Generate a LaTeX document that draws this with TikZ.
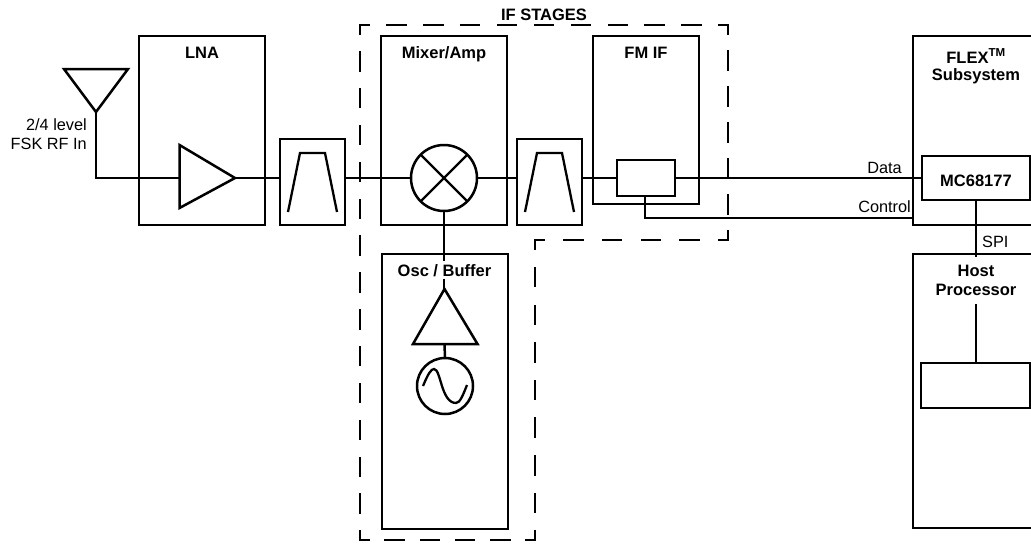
\documentclass[tikz,border=0pt]{standalone}
\usepackage{fontspec}
\setmainfont{Liberation Sans}
\usetikzlibrary{calc}
\newcommand{\dashside}[4]{% from, to, length, periods
  \pgfmathsetmacro{\myG}{(#3-17+18)/(#4+1)-18}
  \draw[dashline,dash pattern=on 18pt off \myG pt,dash phase=9.5pt] (#1) -- (#2);
}
\tikzset{
  ln/.style={draw=black,line width=2.5pt},
  thin ln/.style={draw=black,line width=2.3pt},
  dashline/.style={draw=black,line width=2.5pt,line cap=rect},
  boxn/.style={ln,rectangle,inner sep=0pt,outer sep=0pt,anchor=north west},
  lab/.style={inner sep=0pt,anchor=base,font=\fontsize{16.5}{19}\selectfont\bfseries},
  small/.style={inner sep=0pt,anchor=base,font=\fontsize{16.3}{19}\selectfont},
  round/.style={ln,circle,inner sep=0pt,outer sep=0pt,fill=white},
}
\begin{document}
\begin{tikzpicture}[x=1pt,y=-1pt,line join=miter]
\useasboundingbox (0,0) rectangle (1031,544);
\clip (0,0) rectangle (1031,544);
\fill[white] (0,0) rectangle (1031,544);
% boxes
\node[boxn,minimum width=126pt,minimum height=189pt] (lna) at (139,36) {};
\node[boxn,minimum width=65pt,minimum height=86pt] (f1) at (280,139) {};
\node[boxn,minimum width=126pt,minimum height=189pt] (mix) at (381,36) {};
\node[boxn,minimum width=65pt,minimum height=86pt] (f2) at (517,139) {};
\node[boxn,minimum width=106pt,minimum height=168pt] (fmif) at (593,36) {};
\node[boxn,minimum width=58pt,minimum height=36pt] (lim) at (617,160) {};
\node[boxn,minimum width=126pt,minimum height=275pt] (osc) at (382,254) {};
\node[boxn,minimum width=140pt,minimum height=189pt] (flex) at (913,36) {};
\node[boxn,minimum width=108pt,minimum height=44pt,fill=white] (mc) at (922,156) {};
\node[boxn,minimum width=140pt,minimum height=274pt] (host) at (913,254) {};
\node[boxn,minimum width=109pt,minimum height=45pt] (dsp) at (921,363) {};
\node[round,minimum size=66pt] (mx) at (444,178) {};
\node[round,minimum size=56pt] (lo) at (445,386) {};
% coordinates
\coordinate (ant1) at (64,69);
\coordinate (ant2) at (128,69);
\coordinate (ant3) at (96,112);
\coordinate (bend) at (96,178);
\coordinate (a1) at (179.5,145);
\coordinate (a2) at (179.5,208);
\coordinate (a3) at (235,178);
\coordinate (b1) at (444.5,289);
\coordinate (b2) at (413,344);
\coordinate (b3) at (477.5,344);
\coordinate (ctl1) at (645,218);
\coordinate (ctlend) at (913,218);
\coordinate (spiend) at (976,257);
\coordinate (hosttop) at (976,304);
% antenna and amplifiers
\draw[ln] (ant1) -- (ant2) -- (ant3) -- cycle;
\draw[ln] (a1) -- (a2) -- (a3) -- cycle;
\draw[ln] (b1) -- (b2) -- (b3) -- cycle;
% connectors
\draw[ln] (ant3) -- (bend) -- (a1 |- bend);
\draw[ln] (a3) -- (f1.west |- a3);
\draw[ln] (f1.east |- a3) -- (mx.west);
\draw[ln] (mx.east) -- (f2.west |- mx);
\draw[ln] (f2.east |- mx) -- (lim.west |- mx);
\draw[ln] (lim.east |- mx) -- (mc.west |- mx);
\draw[ln] (ctl1 |- lim.south) -- (ctl1) -- (ctlend);
\draw[ln] (mx.south) -- (mx.south |- b1);
\draw[ln] (b2 -| b1) -- (lo.north);
\draw[ln] (mc.south -| spiend) -- (spiend);
\draw[ln] (hosttop) -- (hosttop |- dsp.north);
% mixer cross
\draw[thin ln] (mx.north west) -- (mx.south east);
\draw[thin ln] (mx.north east) -- (mx.south west);
% filters
\draw[thin ln] ($(f1.south west)+(8,-13)$) -- ($(f1.north west)+(20,14)$) -- ($(f1.north west)+(45,14)$) -- ($(f1.south west)+(57,-13)$);
\draw[thin ln] ($(f2.south west)+(8,-13)$) -- ($(f2.north west)+(20,14)$) -- ($(f2.north west)+(45,14)$) -- ($(f2.south west)+(57,-13)$);
% sine
\draw[thin ln] (423,386) .. controls (428,374) and (431,369) .. (434,369)
  .. controls (441,369) and (441,403) .. (456,403)
  .. controls (460,403) and (463,395) .. (467,385);
% dashed outline
\coordinate (d1) at (360,25);
\coordinate (d2) at (728,25);
\coordinate (d3) at (728,240);
\coordinate (d4) at (535,240);
\coordinate (d5) at (535,540);
\coordinate (d6) at (360,540);
\dashside{d1}{d2}{368}{9}
\dashside{d2}{d3}{215}{5}
\dashside{d4}{d3}{193}{4}
\dashside{d4}{d5}{300}{7}
\dashside{d6}{d5}{175}{4}
\dashside{d1}{d6}{515}{13}
% labels
\node[lab] (tlna) at (202,58) {LNA};
\node[lab] (tmix) at (444,58) {Mixer/Amp};
\node[lab] (tfm) at (646,58) {FM IF};
\node[lab] (tif) at (544,20) {IF STAGES};
\node[lab,fill=white,inner ysep=3pt,inner xsep=1pt] (tosc) at (444.5,276) {Osc / Buffer};
\node[lab] (tflex) at (976,63) {FLEX\textsuperscript{TM}};
\node[lab] (tsub) at (976,80) {Subsystem};
\node[lab] (tmc) at (976,186) {MC68177};
\node[lab] (thost) at (976,276) {Host};
\node[lab] (tproc) at (976,295) {Processor};
\node[small,anchor=base east] (tlev) at (87,130) {2/4 level};
\node[small,anchor=base east] (tfsk) at (87,149) {FSK RF In};
\node[small] (tdata) at (884.5,173) {Data};
\node[small,anchor=base east] (tctl) at (911,212) {Control};
\node[small,anchor=base west] (tspi) at (982,247) {SPI};
\end{tikzpicture}
\end{document}
